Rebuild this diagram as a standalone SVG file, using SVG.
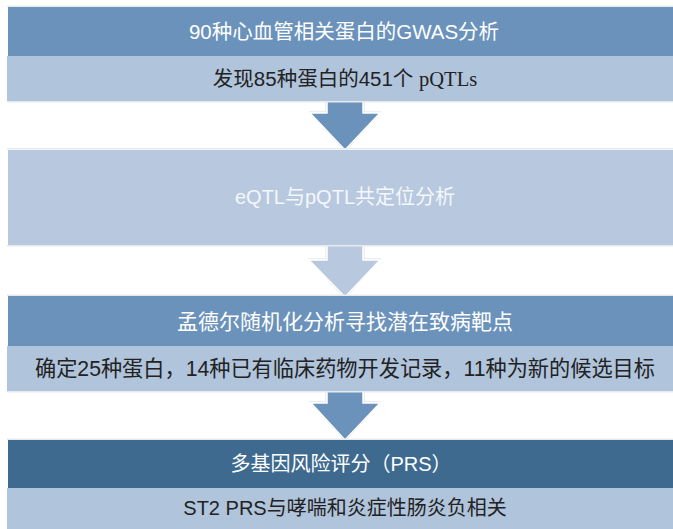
<svg xmlns="http://www.w3.org/2000/svg" width="673" height="529" viewBox="0 0 673 529">
<style>
.dark{fill:#6b92bb}
.darker{fill:#3e6a8f}
.light{fill:#b0c4dc}
.mid{fill:#b8c9df}
.shade{fill:#e6e9ee}
.t{font-family:"Liberation Sans","Noto Sans CJK SC",sans-serif;font-size:20px;text-anchor:middle;dominant-baseline:central}
.w{fill:#ffffff}
.b{fill:#222222}
.serif{font-family:"Liberation Serif","Noto Sans CJK SC",serif}
.arr{stroke:#ffffff;stroke-width:1.5;stroke-linejoin:miter}
.arrsh{fill:none;stroke:#d8dce2;stroke-width:1}
</style>
<rect width="673" height="529" fill="#ffffff"/>
<g id="connectors">
<polygon class="arrsh" points="326,101 326,112 309,112 345,151 381,112 364,112 364,101"/>
<polygon class="arr dark" points="327,100 327,113 310,113 345,150 380,113 363,113 363,100"/>
<polygon class="arrsh" points="326,245 326,259 308,259 345,298 381,259 364,259 364,245"/>
<polygon class="arr mid" points="327,244 327,260 309,260 345,297 380,260 363,260 363,244"/>
<polygon class="arrsh" points="326,391 326,402 310,402 345,441 381,402 364,402 364,391"/>
<polygon class="arr dark" points="327,390 327,403 311,403 345,440 380,403 363,403 363,390"/>
</g>
<g id="node1">
<rect class="shade" x="7" y="5.5" width="666" height="1.5"/>
<rect class="dark" x="8" y="7" width="665" height="49"/>
<rect class="light" x="7" y="56" width="666" height="45"/>
<rect class="shade" x="7" y="101" width="666" height="1.5"/>
<text class="t w" x="344" y="31" style="font-size:20.5px">90种心血管相关蛋白的GWAS分析</text>
<text class="t b" x="345" y="78.5" style="font-size:20.5px">发现85种蛋白的451个 <tspan class="serif">pQTLs</tspan></text>
</g>
<g id="node2">
<rect class="shade" x="7" y="148" width="666" height="1.5"/>
<rect class="mid" x="8" y="150" width="665" height="95"/>
<rect class="shade" x="7" y="245" width="666" height="1.5"/>
<text class="t" fill="#f4f7fb" x="345" y="197">eQTL与pQTL共定位分析</text>
</g>
<g id="node3">
<rect class="shade" x="7" y="294.5" width="666" height="1.5"/>
<rect class="dark" x="8" y="296" width="665" height="50"/>
<rect class="light" x="7" y="346" width="666" height="45"/>
<rect class="shade" x="7" y="391" width="666" height="1.5"/>
<text class="t w" x="345" y="321" style="font-size:21px">孟德尔随机化分析寻找潜在致病靶点</text>
<text class="t b" x="345" y="368" style="font-size:21.2px">确定25种蛋白，14种已有临床药物开发记录，11种为新的候选目标</text>
</g>
<g id="node4">
<rect class="shade" x="7" y="438.5" width="666" height="1.5"/>
<rect class="darker" x="8" y="440" width="665" height="48"/>
<rect class="light" x="7" y="488" width="666" height="41"/>
<text class="t w" x="341" y="464">多基因风险评分（PRS）</text>
<text class="t b" x="345" y="508">ST2 PRS与哮喘和炎症性肠炎负相关</text>
</g>
</svg>
